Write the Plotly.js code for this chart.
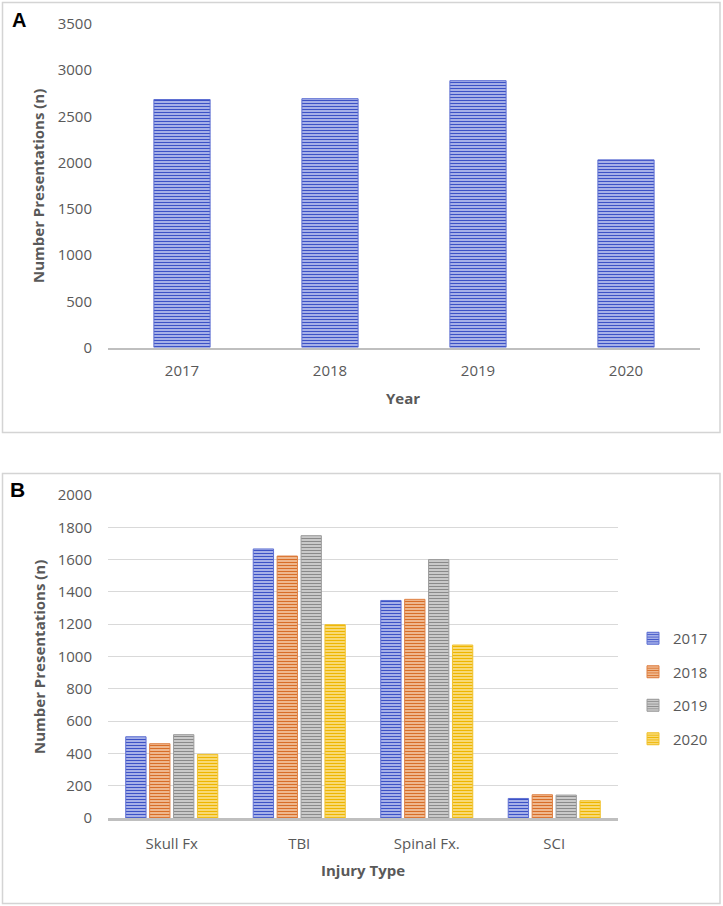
<!DOCTYPE html>
<html>
<head>
<meta charset="utf-8">
<script src="https://cdn.plot.ly/plotly-3.0.1.min.js"></script>
<style>
html,body{margin:0;padding:0;background:#fff;}
#chart{width:723px;height:906px;}
</style>
</head>
<body>
<div id="chart"></div>
<script>
// ---- Data ----
const years = ['2017', '2018', '2019', '2020'];
const totalPresentations = [2683, 2692, 2887, 2030];

const injuryTypes = ['Skull Fx', 'TBI', 'Spinal Fx.', 'SCI'];
const series2017 = [503, 1666, 1347, 121];
const series2018 = [460, 1622, 1354, 144];
const series2019 = [516, 1748, 1600, 142];
const series2020 = [394, 1197, 1071, 107];

const seriesNames = ['2017', '2018', '2019', '2020'];
const seriesValues = [series2017, series2018, series2019, series2020];

// ---- Styles ----
const W = 723, H = 906;
const px = v => v / W;
const py = v => 1 - v / H;
const FONT = '"Open Sans", "Noto Sans", sans-serif';
const TXT = '#595959';

const styles = [
  {fg: '#3c52c6', bg: '#bcc4f0', line: '#5f70d3'},
  {fg: '#d76e28', bg: '#f5c6a2', line: '#df8144'},
  {fg: '#8a8a8a', bg: '#d6d6d6', line: '#9c9c9c'},
  {fg: '#eeb500', bg: '#fbe18c', line: '#f1c22e'}
];

function pat(s) {
  return {shape: '-', size: 3, solidity: 0.45, fgcolor: s.fg, bgcolor: s.bg, fillmode: 'replace'};
}

const traces = [];
traces.push({
  type: 'bar',
  x: years,
  y: totalPresentations,
  xaxis: 'x', yaxis: 'y',
  width: 0.38,
  showlegend: false,
  marker: {color: styles[0].bg, pattern: pat(styles[0]), line: {color: styles[0].line, width: 1}},
  hoverinfo: 'x+y'
});

seriesNames.forEach((name, i) => {
  traces.push({
    type: 'bar',
    name: name,
    legendgroup: 'g' + i,
    x: injuryTypes,
    y: seriesValues[i],
    xaxis: 'x2', yaxis: 'y2',
    marker: {color: styles[i].bg, pattern: pat(styles[i]), line: {color: styles[i].line, width: 1}}
  });
});

const tickFont = {family: FONT, size: 15, color: TXT};
const titleFont = {family: FONT, size: 15, color: TXT, weight: 'bold'};

const layout = {
  width: W, height: H,
  margin: {l: 0, r: 0, t: 0, b: 0},
  paper_bgcolor: '#ffffff',
  plot_bgcolor: 'rgba(0,0,0,0)',
  barmode: 'group',
  bargap: 0.25,
  bargroupgap: 0.15,
  font: {family: FONT, color: TXT},
  xaxis: {
    domain: [px(108), px(700)],
    anchor: 'y',
    type: 'category',
    showline: true, linecolor: '#bfbfbf', linewidth: 2.5,
    showgrid: false, zeroline: false, ticks: '',
    tickfont: tickFont, ticklabelstandoff: 8
  },
  yaxis: {
    domain: [py(347.5), py(24)],
    anchor: 'x',
    range: [0, 3500], dtick: 500,
    showline: false, showgrid: false, zeroline: false, ticks: '',
    tickfont: tickFont, ticklabelstandoff: 15
  },
  xaxis2: {
    domain: [px(108), px(618)],
    anchor: 'y2',
    type: 'category',
    showline: true, linecolor: '#bfbfbf', linewidth: 2.5,
    showgrid: false, zeroline: false, ticks: '',
    tickfont: tickFont, ticklabelstandoff: 10
  },
  yaxis2: {
    domain: [py(818), py(495)],
    anchor: 'x2',
    range: [0, 2000], dtick: 200,
    showline: false, showgrid: true, gridcolor: '#d9d9d9', gridwidth: 1,
    zeroline: false, ticks: '',
    tickfont: tickFont, ticklabelstandoff: 15
  },
  legend: {
    x: px(633), xanchor: 'left',
    y: py(622), yanchor: 'top',
    font: {family: FONT, size: 15, color: TXT},
    traceorder: 'grouped',
    tracegroupgap: 11,
    itemwidth: 30,
    bgcolor: 'rgba(0,0,0,0)'
  },
  shapes: [
    {type: 'rect', xref: 'paper', yref: 'paper', x0: px(2.5), x1: px(720), y0: py(432.5), y1: py(2.5),
     line: {color: '#d4d4d4', width: 1.5}, fillcolor: 'rgba(0,0,0,0)', layer: 'below'},
    {type: 'rect', xref: 'paper', yref: 'paper', x0: px(2.5), x1: px(720), y0: py(903.5), y1: py(473.5),
     line: {color: '#d4d4d4', width: 1.5}, fillcolor: 'rgba(0,0,0,0)', layer: 'below'}
  ],
  annotations: [
    {text: 'A', xref: 'paper', yref: 'paper', x: px(10), y: py(19.5), xanchor: 'left', yanchor: 'middle',
     showarrow: false, font: {family: '"Liberation Sans", Arial, sans-serif', size: 20, color: '#000', weight: 'bold'}},
    {text: 'B', xref: 'paper', yref: 'paper', x: px(8), y: py(489), xanchor: 'left', yanchor: 'middle',
     showarrow: false, font: {family: '"Liberation Sans", Arial, sans-serif', size: 21, color: '#000', weight: 'bold'}},
    {text: 'Number Presentations (n)', xref: 'paper', yref: 'paper', x: px(38), y: py(186), textangle: -90,
     xanchor: 'center', yanchor: 'middle', showarrow: false, font: titleFont},
    {text: 'Number Presentations (n)', xref: 'paper', yref: 'paper', x: px(39), y: py(657), textangle: -90,
     xanchor: 'center', yanchor: 'middle', showarrow: false, font: titleFont},
    {text: 'Year', xref: 'paper', yref: 'paper', x: px(403), y: py(398), 
     xanchor: 'center', yanchor: 'middle', showarrow: false, font: titleFont},
    {text: 'Injury Type', xref: 'paper', yref: 'paper', x: px(363), y: py(870),
     xanchor: 'center', yanchor: 'middle', showarrow: false, font: titleFont}
  ]
};

Plotly.newPlot('chart', traces, layout, {displayModeBar: false, staticPlot: true});
</script>
</body>
</html>
